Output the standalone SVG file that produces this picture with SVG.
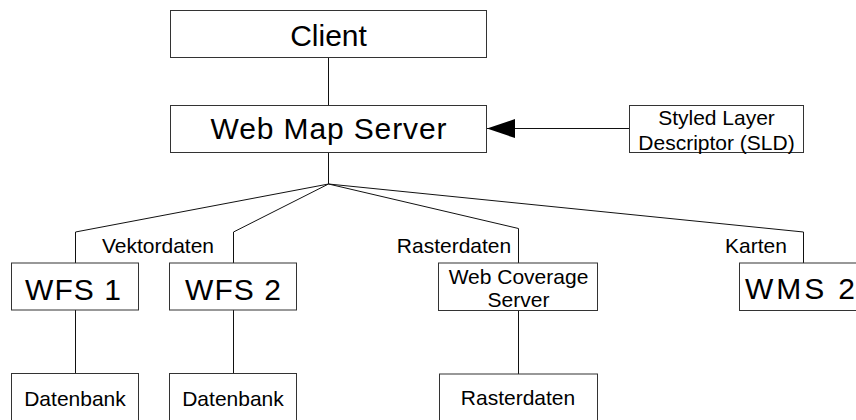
<svg xmlns="http://www.w3.org/2000/svg" width="856" height="420" viewBox="0 0 856 420">
<defs>
<style>
.box{fill:#fff;stroke:#333;stroke-width:1}
.ln{fill:none;stroke:#111;stroke-width:1}
.t{font-family:"Liberation Sans",Arial,sans-serif;fill:#000;text-anchor:middle}
.big{font-size:30px}
.sm{font-size:21px}
</style>
<marker id="arr" markerWidth="28" markerHeight="20" refX="28" refY="10" orient="auto" markerUnits="userSpaceOnUse">
<path d="M0,10 L28,0.5 L28,19.5 Z" fill="#000" transform="rotate(180 14 10)"/>
</marker>
</defs>
<rect width="856" height="420" fill="#fff"/>
<g id="connectors">
<line class="ln" x1="328.5" y1="57" x2="328.5" y2="105"/>
<line class="ln" x1="328.5" y1="152" x2="328.5" y2="184"/>
<polyline class="ln" points="328.5,184 75.5,232 75.5,263"/>
<polyline class="ln" points="328.5,184 233.5,232 233.5,263"/>
<polyline class="ln" points="328.5,184 518.5,228.5 518.5,263"/>
<polyline class="ln" points="328.5,184 803.5,232 803.5,263"/>
<line class="ln" x1="75.5" y1="310" x2="75.5" y2="373"/>
<line class="ln" x1="233.5" y1="310" x2="233.5" y2="373"/>
<line class="ln" x1="518.5" y1="310.5" x2="518.5" y2="374"/>
<line class="ln" x1="629" y1="128.5" x2="487" y2="128.5" marker-end="url(#arr)"/>
<text class="t sm" x="158" y="252.5">Vektordaten</text>
<text class="t sm" x="454" y="252.5">Rasterdaten</text>
<text class="t sm" x="756" y="252.5">Karten</text>
</g>
<g id="client"><rect class="box" x="170.5" y="10.5" width="316" height="47"/><text class="t big" x="328.5" y="45.5">Client</text></g>
<g id="wms"><rect class="box" x="170.5" y="105.5" width="316" height="47"/><text class="t big" x="328.5" y="138.5" textLength="236" lengthAdjust="spacing">Web Map Server</text></g>
<g id="sld"><rect class="box" x="629.5" y="105.5" width="174" height="47"/><text class="t sm" x="716.5" y="125">Styled Layer</text><text class="t sm" x="716.5" y="150">Descriptor (SLD)</text></g>
<g id="wfs1"><rect class="box" x="11.5" y="263" width="127" height="47"/><text class="t big" x="73" y="299.5" textLength="96" lengthAdjust="spacing">WFS 1</text></g>
<g id="wfs2"><rect class="box" x="169.5" y="263" width="127" height="47"/><text class="t big" x="233" y="299.5" textLength="96" lengthAdjust="spacing">WFS 2</text></g>
<g id="wcs"><rect class="box" x="438.5" y="263" width="159" height="47.5"/><text class="t sm" x="518.5" y="283.5">Web Coverage</text><text class="t sm" x="518.5" y="307">Server</text></g>
<g id="wms2"><rect class="box" x="739.5" y="263" width="130" height="47.5"/><text class="t big" x="745" y="299" style="text-anchor:start" textLength="110" lengthAdjust="spacing">WMS 2</text></g>
<g id="db1"><rect class="box" x="11.5" y="373.5" width="127" height="60"/><text class="t sm" x="75" y="406">Datenbank</text></g>
<g id="db2"><rect class="box" x="169.5" y="373.5" width="127" height="60"/><text class="t sm" x="233" y="406">Datenbank</text></g>
<g id="raster"><rect class="box" x="439.5" y="374" width="158" height="60"/><text class="t sm" x="518" y="405">Rasterdaten</text></g>
</svg>
